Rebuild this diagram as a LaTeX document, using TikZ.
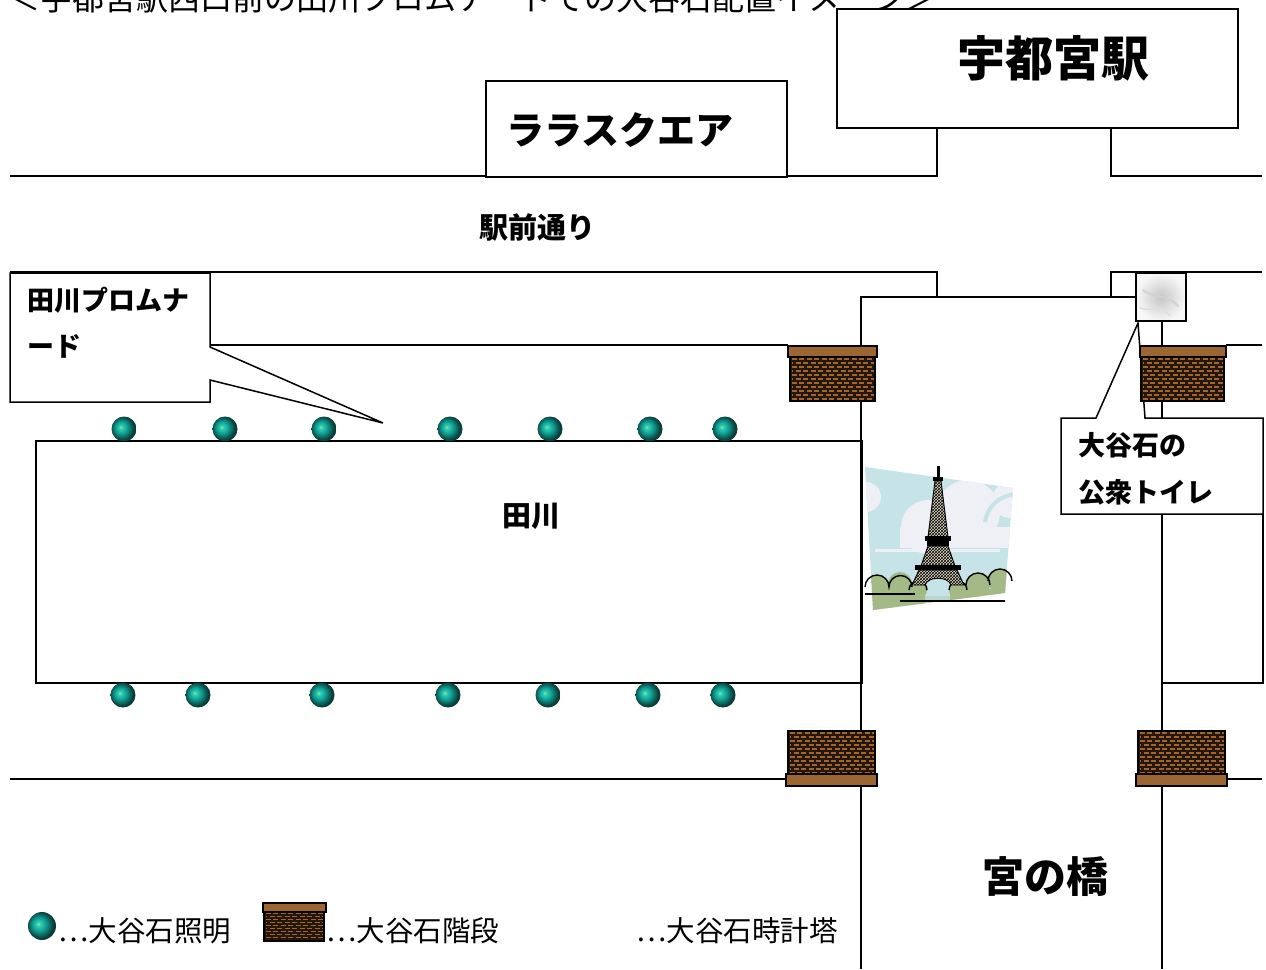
\documentclass[tikz,border=0pt]{standalone}
\usepackage{fontspec}
\newfontfamily\jp{Noto Sans CJK JP}
\usetikzlibrary{patterns}

\definecolor{brickdark}{HTML}{24160A}
\definecolor{brickface}{HTML}{A2652C}
\definecolor{capbrown}{HTML}{9C6631}
\definecolor{sky}{HTML}{C6E3E7}
\definecolor{cloud}{HTML}{EFEFF6}
\definecolor{bush}{HTML}{A3B986}
\definecolor{towerfill}{HTML}{E6E1C4}
\definecolor{lampHi}{HTML}{C8E840}
\definecolor{lampLight}{HTML}{2FD2C0}
\definecolor{lampMid}{HTML}{109E90}
\definecolor{lampDark}{HTML}{0B4A46}

\pgfdeclareradialshading{lamp}{\pgfpoint{-7bp}{4bp}}{%
  color(0bp)=(lampHi); color(3bp)=(lampLight); color(12bp)=(lampMid);
  color(22bp)=(lampDark); color(25bp)=(lampDark!80!black); color(50bp)=(lampDark!80!black)}

% brick wall face: x0 y0 x1 y1 row-step
\newcommand{\brickfill}[5]{%
  \fill[brickdark] (#1,#2) rectangle (#3,#4);
  \begin{scope}
    \clip (#1,#2) rectangle (#3,#4);
    \pgfmathtruncatemacro\nrows{(#4-#2)/#5}
    \foreach \r in {0,...,\nrows}{
      \pgfmathsetmacro\yy{#2+0.5*#5+#5*\r}
      \pgfmathsetmacro\ph{mod(\r,2)*3.5}
      \draw[brickface, line width=0.34*#5 pt, dash pattern=on 5pt off 2.5pt,
            dash phase=\ph pt] (#1+1.5,\yy) -- (#3-1.5,\yy);
    }
  \end{scope}
  \draw[line width=1.2pt] (#1,#2) rectangle (#3,#4);
}
\newcommand{\lamp}[3]{\shade[shading=lamp] (#1,#2) circle[radius=#3];}

\begin{document}
\begin{tikzpicture}[x=1pt, y=-1pt, line width=1.5pt,
  wall/.style={line width=1.5pt},
  boxfill/.style={draw, fill=white, line width=1.5pt},
  boldlabel/.style={font={\jp\bfseries\fontsize{#1}{#1}\selectfont}, inner sep=0pt},
  legendtext/.style={font={\jp\fontsize{28.5}{28.5}\selectfont}, inner sep=0pt, anchor=west},
  capbar/.style={draw, fill=capbrown, line width=1.3pt},
  tower/.style={preaction={fill=towerfill}, pattern=crosshatch, pattern color=black,
                draw=black, line width=0.9pt}]

\clip (0,0) rectangle (1266,969);
\fill[white] (0,0) rectangle (1266,969);

% heading, running off the top edge
\node[anchor=base west, inner sep=0pt, font={\jp\fontsize{32}{32}\selectfont}] (title)
  at (8,10) {＜宇都宮駅西口前の田川プロムナードでの大谷石配置イメージ＞};

% station building
\node[boxfill, minimum width=401pt, minimum height=119pt, anchor=north west] (stationbox) at (836,8) {};
\node[boldlabel=48] (station) at (1053,58) {宇都宮駅};

% street lines
\draw[wall] (10,176) -- (937,176) -- (937,127);
\draw[wall] (1111,127) -- (1111,176) -- (1262,176);
\draw[wall] (10,272) -- (937,272) -- (937,297);
\draw[wall] (861,969) -- (861,297) -- (1136,297);
\draw[wall] (1111,297) -- (1111,272) -- (1262,272);
\draw[wall] (10,345) -- (788,345);
\draw[wall] (1226,345) -- (1262,345);
\draw[wall] (1162,321) -- (1162,969);
\draw[wall] (1162,514) -- (1263,514) -- (1263,683) -- (1162,683);
\draw[wall] (10,779) -- (787,779);
\draw[wall] (1227,779) -- (1262,779);

% shopping building
\node[boxfill, minimum width=301pt, minimum height=96pt, anchor=north west] (larabox) at (485,80) {};
\node[boldlabel=38] (lara) at (620,130) {ララスクエア};

\node[boldlabel=29] (street) at (537,227) {駅前通り};

% river
\draw[wall] (36,441) rectangle (862,683);
\node[boldlabel=29] (river) at (531,516) {田川};

% lights along the river
\foreach \x in {124,225,324,450,550,650,725} {\lamp{\x}{429}{12.5}}
\foreach \x in {123,198,322,448,548,648,723} {\lamp{\x}{695}{12.5}}

% promenade callout
\draw[boxfill] (10,273) -- (210,273) -- (210,347) -- (383,423) -- (210,380)
  -- (210,402) -- (10,402) -- cycle;
\node[boldlabel=27, anchor=west] (prom1) at (27,300) {田川プロムナ};
\node[boldlabel=27, anchor=west] (prom2) at (27,346) {ード};

% toilet callout
\draw[boxfill] (1061,418) -- (1096,418) -- (1138,323) -- (1145,418) -- (1263,418)
  -- (1263,514) -- (1061,514) -- cycle;
\node[boldlabel=27, anchor=west] (toilet1) at (1078,445) {大谷石の};
\node[boldlabel=27, anchor=west] (toilet2) at (1078,492) {公衆トイレ};

% stone toilet
\shade[inner color=gray!45, outer color=gray!6] (1136,273) rectangle (1186,321);
\draw[gray!35, line width=2pt, line cap=round] (1143,290) .. controls (1155,300) and (1165,292) .. (1178,306);
\draw[gray!25, line width=1.5pt, line cap=round] (1140,308) .. controls (1150,312) and (1160,304) .. (1170,316);
\draw[line width=1.4pt] (1136,273) rectangle (1186,321);

% stone stairs
\draw[capbar] (788,346) rectangle (877,357);
\brickfill{790}{357}{875}{401}{4}
\draw[capbar] (1140,346) rectangle (1226,357);
\brickfill{1141}{357}{1224}{401}{4}
\brickfill{788}{731}{875}{774}{4}
\draw[capbar] (786,774) rectangle (877,786);
\brickfill{1138}{731}{1225}{774}{4}
\draw[capbar] (1136,774) rectangle (1227,786);

% tower picture
\begin{scope}
  \clip (865,467) -- (1013,488) -- (1005,593) -- (873,610) -- cycle;
  \fill[sky] (850,450) rectangle (1020,620);
  \fill[cloud] (866,497) circle[radius=15];
  \fill[cloud] (928,527) circle[radius=27];
  \fill[cloud] (968,512) circle[radius=32];
  \fill[cloud] (1010,500) circle[radius=18];
  \fill[cloud] (900,527) rectangle (1015,548);
  \draw[sky, line width=4pt] (985,522) .. controls (988,505) and (1000,496) .. (1015,494);
  \fill[cloud] (875,549) rectangle (1000,552);
  \fill[bush] (877,587) circle[radius=12];
  \fill[bush] (900,584) circle[radius=12];
  \fill[bush] (918,590) circle[radius=9];
  \fill[bush] (860,588) rectangle (925,615);
  \fill[bush] (958,590) circle[radius=9];
  \fill[bush] (978,585) circle[radius=12];
  \fill[bush] (1000,581) circle[radius=12];
  \fill[bush] (950,589) rectangle (1015,615);
  \fill[sky!70!bush] (925,596) rectangle (950,615);
\end{scope}
\draw[line width=1.4pt] (865,587) arc[start angle=180, end angle=360, radius=12]
  arc[start angle=180, end angle=360, radius=11.5] (909,590) arc[start angle=180, end angle=360, radius=9];
\draw[line width=1.4pt] (949,590) arc[start angle=180, end angle=360, radius=9]
  (966,585) arc[start angle=180, end angle=360, radius=12] (988,581) arc[start angle=180, end angle=360, radius=12];
\draw[line width=2pt] (865,594) -- (915,594);
\draw[line width=1.5pt] (900,601) -- (1005,601);
% tower
\fill (937,466) rectangle (940,477);
\fill (933,477) rectangle (943,481);
\draw[tower] (935,481) -- (941,481) -- (948,537) -- (928,537) -- cycle;
\fill (925,536) rectangle (951,541);
\fill (927,541) rectangle (949,546);
\draw[tower] (928,546) -- (948,546) -- (955,566) -- (921,566) -- cycle;
\fill (915,565) rectangle (961,570);
\draw[tower] (919,570) -- (957,570) -- (964,585) -- (951,585)
  .. controls (948,576) and (928,576) .. (925,585) -- (912,585) -- cycle;

\node[boldlabel=42] (bridge) at (1045,877) {宮の橋};

% legend
\lamp{42}{926}{14}
\node[legendtext] (leg1) at (58,931) {…大谷石照明};
\draw[capbar] (263,903) rectangle (326,912);
\brickfill{264}{912}{324}{941}{3}
\node[legendtext] (leg2) at (326,931) {…大谷石階段};
\node[legendtext] (leg3) at (636,931) {…大谷石時計塔};
\end{tikzpicture}
\end{document}
